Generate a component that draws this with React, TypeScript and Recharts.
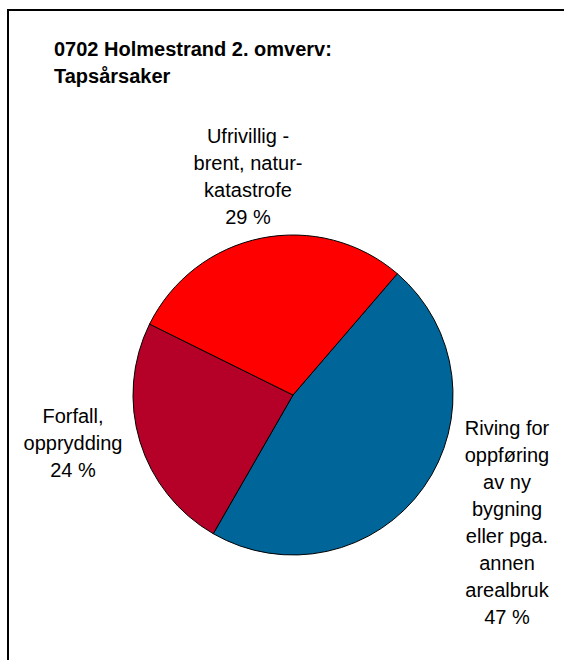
import React from 'react';
import { PieChart, Pie, Cell } from 'recharts';

// Tapsårsaker, share of lost buildings (%)
const causes = [
  'Riving for\noppføring\nav ny\nbygning\neller pga.\nannen\narealbruk',
  'Forfall,\nopprydding',
  'Ufrivillig -\nbrent, natur-\nkatastrofe',
];
const shares = [47, 24, 29];
const colors = ['#006699', '#B50027', '#FF0000'];

const title = ['0702 Holmestrand 2. omverv:', 'Tapsårsaker'];

const data = causes.map((name, i) => ({ name, value: shares[i] }));

const FONT = '"Liberation Sans", Arial, sans-serif';
const CX = 288;
const CY = 390;
const LINE = 27;
// label block placement relative to pie centre (x = block centre, y = first baseline)
const labelOffset = [
  { dx: 214, dy: 40 },
  { dx: -220, dy: 28 },
  { dx: -45, dy: -252 },
];

const renderLabel = (props: any) => {
  const { cx, cy, index, percent, name } = props;
  const off = labelOffset[index];
  const lines = [...String(name).split('\n'), `${Math.round(percent * 100)} %`];
  return (
    <text
      x={cx + off.dx}
      y={cy + off.dy}
      textAnchor="middle"
      fontFamily={FONT}
      fontSize={20}
      fill="#000"
    >
      {lines.map((l, i) => (
        <tspan key={i} x={cx + off.dx} y={cy + off.dy + i * LINE}>
          {l}
        </tspan>
      ))}
    </text>
  );
};

export default function App() {
  return (
    <div
      style={{
        position: 'absolute',
        left: 0,
        top: 0,
        width: 564,
        height: 660,
        overflow: 'hidden',
        background: '#fff',
      }}
    >
      <div
        style={{
          position: 'absolute',
          left: 7,
          top: 9,
          width: 700,
          height: 800,
          border: '2px solid #000',
        }}
      />
      <svg
        width={564}
        height={660}
        style={{ position: 'absolute', left: 0, top: 0 }}
      >
        {title.map((t, i) => (
          <text
            key={i}
            x={54}
            y={56 + i * LINE}
            fontFamily={FONT}
            fontSize={20}
            fontWeight="bold"
            fill="#000"
          >
            {t}
          </text>
        ))}
      </svg>
      <div style={{ position: 'absolute', left: 0, top: 0 }}>
        <PieChart width={564} height={660}>
          <Pie
            data={data}
            dataKey="value"
            nameKey="name"
            cx={CX}
            cy={CY}
            outerRadius={160}
            startAngle={49.3}
            endAngle={-310.7}
            stroke="#000"
            strokeWidth={1}
            label={renderLabel}
            labelLine={false}
            isAnimationActive={false}
          >
            {data.map((d, i) => (
              <Cell key={d.name} fill={colors[i]} />
            ))}
          </Pie>
        </PieChart>
      </div>
    </div>
  );
}
